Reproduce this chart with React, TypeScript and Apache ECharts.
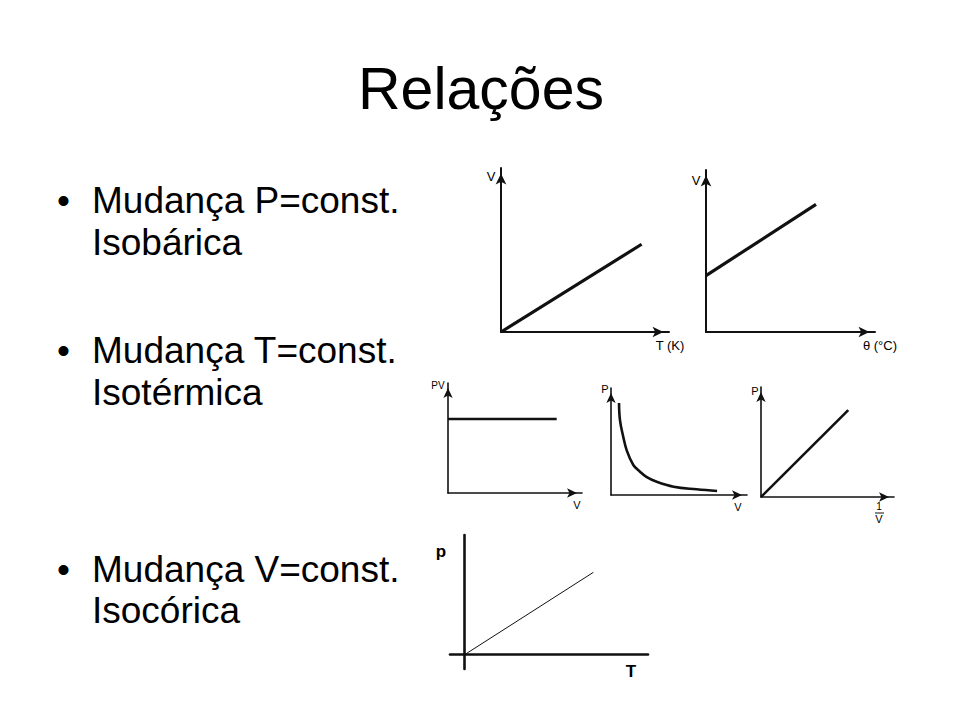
import React, { useEffect, useRef } from "react";
import * as echarts from "echarts";

// ---- data (axis units 0..10) ----
const isobaricKelvin: number[][] = [[0, 0], [8.37, 5.35]];
const isobaricCelsius: number[][] = [[0, 3.48], [6.51, 7.88]];
const isothermPV: number[][] = [[0, 6.73], [8.11, 6.73]];
const isothermP: number[][] = [
  [0.59, 8.6], [0.66, 7.0], [0.9, 5.45], [1.15, 4.2], [1.64, 2.8], [2.13, 2.18],
  [2.6, 1.7], [3.36, 1.24], [4.6, 0.78], [6.3, 0.53], [7.8, 0.37],
];
const isothermInverse: number[][] = [[0, 0], [6.56, 7.9]];
const isochoric: number[][] = [[0, 0], [7.02, 6.88]];

const xRanges: number[][] = [[0, 10], [0, 10], [0, 10], [0, 10], [0, 10], [-0.8, 10]];
const yRanges: number[][] = [[0, 10], [0, 10], [0, 10], [0, 10], [0, 10], [-1.2, 10]];

const titleText = "Relações";
const bulletLines = ["Mudança P=const.", "Mudança T=const.", "Mudança V=const."];
const subLines = ["Isobárica", "Isotérmica", "Isocórica"];

const FONT = '"Liberation Sans", Arial, sans-serif';

export default function App() {
  const ref = useRef<HTMLDivElement>(null);
  useEffect(() => {
    document.body.style.margin = "0";
    const chart = echarts.init(ref.current!, undefined, { renderer: "svg" });

    const grids = [
      { left: 501, top: 168, width: 168, height: 164 },
      { left: 706, top: 170, width: 169, height: 162 },
      { left: 448, top: 383, width: 134, height: 110 },
      { left: 611, top: 388, width: 136, height: 107 },
      { left: 761, top: 387, width: 133, height: 110 },
      { left: 450, top: 535, width: 198, height: 134 },
    ];
    const axisW = [2, 2, 1.6, 1.6, 1.6, 2.6];
    const seriesW = [3.2, 3.2, 2.6, 2.6, 2.6, 1];
    const seriesData = [isobaricKelvin, isobaricCelsius, isothermPV, isothermP, isothermInverse, isochoric];

    const axisBase = (i: number, arrow: boolean) => ({
      type: "value",
      axisLine: {
        show: true,
        onZero: true,
        symbol: arrow ? ["none", "arrow"] : ["none", "none"],
        symbolSize: i < 2 ? [8, 11] : [7, 10],
        symbolOffset: i < 2 ? [0, -5.5] : [0, -5],
        lineStyle: { color: "#111", width: axisW[i] },
      },
      axisTick: { show: false },
      axisLabel: { show: false },
      splitLine: { show: false },
    });

    const xAxis = grids.map((_, i) => ({
      ...axisBase(i, i < 5),
      gridIndex: i,
      min: xRanges[i][0],
      max: xRanges[i][1],
    }));
    const yAxis = grids.map((_, i) => ({
      ...axisBase(i, i < 5),
      gridIndex: i,
      min: yRanges[i][0],
      max: yRanges[i][1],
    }));

    const series = seriesData.map((d, i) => ({
      type: "line",
      xAxisIndex: i,
      yAxisIndex: i,
      data: d,
      showSymbol: false,
      smooth: i === 3 ? 0.4 : false,
      lineStyle: { color: "#111", width: seriesW[i] },
      silent: true,
    }));

    const txt = (text: string, x: number, y: number, size: number, align = "left", weight = "normal") => ({
      type: "text",
      x,
      y,
      style: {
        text,
        font: `${weight} ${size}px ${FONT}`,
        fill: "#000",
        textAlign: align,
        textVerticalAlign: "middle",
      },
    });

    const bulletY = [200, 350, 569];
    const subY = [242, 392, 610];

    const graphic: any[] = [
      txt(titleText, 481, 89, 59, "center"),
    ];
    bulletLines.forEach((t, i) => {
      graphic.push(txt("•", 57, bulletY[i], 37));
      graphic.push(txt(t, 92, bulletY[i], 37));
      graphic.push(txt(subLines[i], 92, subY[i], 37));
    });
    graphic.push(
      txt("V", 491, 176, 13, "center"),
      txt("T (K)", 670, 345, 13, "center"),
      txt("V", 696, 180, 13, "center"),
      txt("θ (°C)", 880, 345, 13, "center"),
      txt("PV", 438, 385, 10, "center"),
      txt("V", 577, 505, 11, "center"),
      txt("P", 605, 389, 11, "center"),
      txt("V", 738, 507, 11, "center"),
      txt("P", 755, 391, 11, "center"),
      txt("1", 879, 506, 10, "center"),
      { type: "line", shape: { x1: 875, y1: 513, x2: 884, y2: 513 }, style: { stroke: "#111", lineWidth: 1 } },
      txt("V", 879, 519, 11, "center"),
      txt("p", 441, 551, 17, "center", "bold"),
      txt("T", 631, 671, 17, "center", "bold"),
    );

    chart.setOption({
      animation: false,
      backgroundColor: "#fff",
      grid: grids.map((g) => ({ ...g, containLabel: false })),
      xAxis,
      yAxis,
      series,
      graphic,
    } as any);
    return () => chart.dispose();
  }, []);
  return <div ref={ref} style={{ width: 960, height: 720 }} />;
}
